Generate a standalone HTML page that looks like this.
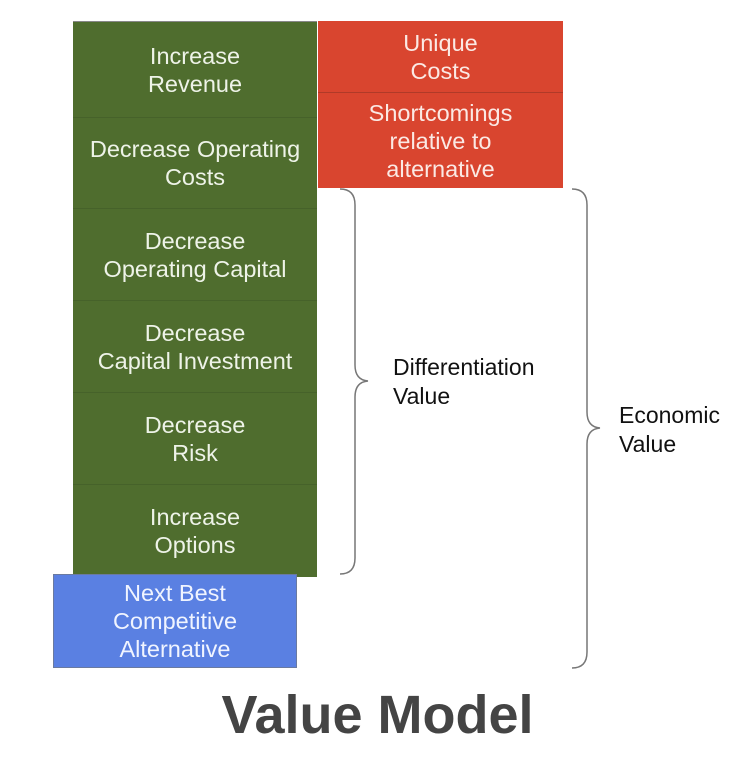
<!DOCTYPE html>
<html><head><style>
body{margin:0;background:#fff;width:750px;height:768px;position:relative;font-family:"Liberation Sans",sans-serif;overflow:hidden}
.b{position:absolute;display:flex;align-items:center;justify-content:center;text-align:center;color:#eef3e8;font-size:23.5px;line-height:28px;box-sizing:border-box}
.g{background:#4f6d2e;left:73px;width:244px;border-top:1px solid #46622a}
.r{background:#d9452f;left:318px;width:245px;color:#fbe9e4}
.t{position:absolute;font-size:23px;line-height:29px;color:#111}
</style></head><body>
<div class="b g" style="top:21px;height:96px;border-top:1px solid #888">Increase<br>Revenue</div>
<div class="b g" style="top:117px;height:91px">Decrease Operating<br>Costs</div>
<div class="b g" style="top:208px;height:92px">Decrease<br>Operating Capital</div>
<div class="b g" style="top:300px;height:92px">Decrease<br>Capital Investment</div>
<div class="b g" style="top:392px;height:92px">Decrease<br>Risk</div>
<div class="b g" style="top:484px;height:93px">Increase<br>Options</div>
<div class="b" style="left:53px;top:574px;width:244px;height:94px;background:#5a80e2;border:1px solid #6a7aa0;color:#f0f4ff">Next Best<br>Competitive<br>Alternative</div>
<div class="b r" style="top:21px;height:72px;border-bottom:1px solid #b03a28">Unique<br>Costs</div>
<div class="b r" style="top:93px;height:95px">Shortcomings<br>relative to<br>alternative</div>
<svg width="750" height="768" style="position:absolute;left:0;top:0" fill="none" stroke="#777" stroke-width="1.5">
<path d="M340 189 Q355 189 355 205 L355 365 Q355 380 368 381 Q355 382 355 397 L355 558 Q355 574 340 574"/>
<path d="M572 189 Q587 189 587 205 L587 412 Q587 427 600 428 Q587 429 587 444 L587 652 Q587 668 572 668"/>
</svg>
<div class="t" style="left:393px;top:353px">Differentiation<br>Value</div>
<div class="t" style="left:619px;top:401px">Economic<br>Value</div>
<div style="position:absolute;left:0;width:755px;top:684px;text-align:center;font-size:54px;font-weight:bold;color:#444">Value Model</div>
</body></html>
